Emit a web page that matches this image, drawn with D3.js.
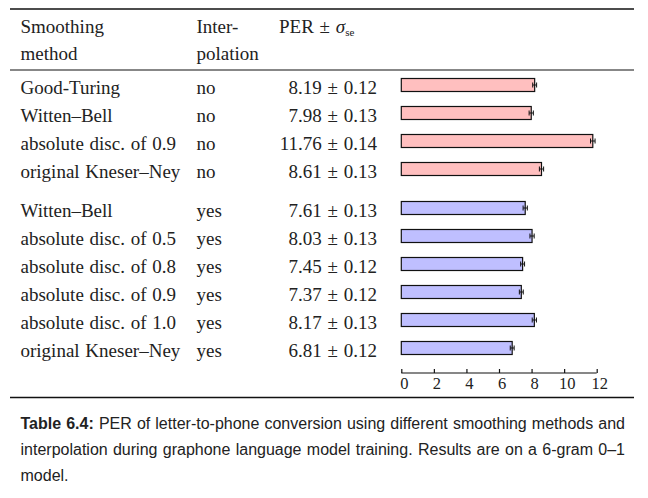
<!DOCTYPE html>
<html>
<head>
<meta charset="utf-8">
<script src="https://cdn.jsdelivr.net/npm/d3@7"></script>
<style>
  body { margin: 0; background: #fff; }
  .serif { font-family: "Liberation Serif", "DejaVu Serif", serif; fill: #222; word-spacing: 1px; }
  .cap { font-family: "Liberation Sans", Arial, sans-serif; fill: #222; }
</style>
</head>
<body>
<svg id="chart" width="648" height="498"></svg>
<script>
// table data
const methods = ["Good-Turing", "Witten\u2013Bell", "absolute disc. of 0.9", "original Kneser\u2013Ney",
  "Witten\u2013Bell", "absolute disc. of 0.5", "absolute disc. of 0.8", "absolute disc. of 0.9",
  "absolute disc. of 1.0", "original Kneser\u2013Ney"];
const interp = ["no", "no", "no", "no", "yes", "yes", "yes", "yes", "yes", "yes"];
const per = [8.19, 7.98, 11.76, 8.61, 7.61, 8.03, 7.45, 7.37, 8.17, 6.81];
const se = [0.12, 0.13, 0.14, 0.13, 0.13, 0.13, 0.12, 0.12, 0.13, 0.12];
const ticks = [0, 2, 4, 6, 8, 10, 12];

const caption = [
  "PER of letter-to-phone conversion using different smoothing methods and",
  "interpolation during graphone language model training.  Results are on a 6-gram 0\u20131",
  "model."
];

const svg = d3.select("#chart");
const fs = 19;

const x = d3.scaleLinear().domain([0, 12]).range([401.3, 596.7]);
// row baselines, second group pushed down a bit
const yRow = d3.scaleLinear().domain([0, 9]).range([94, 346]);
const rowY = i => yRow(i) + (i >= 4 ? 11 : 0);

// rules
const rule = (y, w) => svg.append("line").attr("x1", 10).attr("x2", 634)
  .attr("y1", y).attr("y2", y).attr("stroke", "#111").attr("stroke-width", w);
rule(9, 1.4);
rule(70, 1.1);
rule(397.5, 1.4);

// header
svg.append("text").attr("class", "serif").attr("x", 20.5).attr("y", 33).attr("font-size", fs).text("Smoothing");
svg.append("text").attr("class", "serif").attr("x", 20.5).attr("y", 60).attr("font-size", fs).text("method");
svg.append("text").attr("class", "serif").attr("x", 196.5).attr("y", 33).attr("font-size", fs).text("Inter-");
svg.append("text").attr("class", "serif").attr("x", 196.5).attr("y", 60).attr("font-size", fs).text("polation");
const h = svg.append("text").attr("class", "serif").attr("x", 279).attr("y", 33).attr("font-size", fs);
h.append("tspan").text("PER \u00b1 ");
h.append("tspan").attr("font-style", "italic").text("\u03c3");
h.append("tspan").attr("font-size", 11).attr("dy", 3).text("se");

// rows
const rows = svg.selectAll("g.row").data(per).join("g").attr("class", "row");
rows.append("text").attr("class", "serif").attr("font-size", fs)
  .attr("x", 20.5).attr("y", (d, i) => rowY(i)).text((d, i) => methods[i]);
rows.append("text").attr("class", "serif").attr("font-size", fs)
  .attr("x", 196.5).attr("y", (d, i) => rowY(i)).text((d, i) => interp[i]);
rows.append("text").attr("class", "serif").attr("font-size", fs).attr("text-anchor", "end")
  .attr("x", 377).attr("y", (d, i) => rowY(i))
  .text((d, i) => d.toFixed(2) + " \u00b1 " + se[i].toFixed(2));

// bars
rows.append("rect")
  .attr("x", x(0)).attr("y", (d, i) => rowY(i) - 15.5)
  .attr("width", d => x(d) - x(0)).attr("height", 13)
  .attr("fill", (d, i) => interp[i] == "no" ? "#ffbfbf" : "#bfbfff")
  .attr("stroke", "#111").attr("stroke-width", 1.2);

// error bars
rows.append("line")
  .attr("x1", (d, i) => x(d - se[i])).attr("x2", (d, i) => x(d + se[i]))
  .attr("y1", (d, i) => rowY(i) - 9).attr("y2", (d, i) => rowY(i) - 9)
  .attr("stroke", "#111").attr("stroke-width", 1);
[-1, 1].forEach(s => {
  rows.append("line")
    .attr("x1", (d, i) => x(d + s * se[i])).attr("x2", (d, i) => x(d + s * se[i]))
    .attr("y1", (d, i) => rowY(i) - 11.5).attr("y2", (d, i) => rowY(i) - 6.5)
    .attr("stroke", "#111").attr("stroke-width", 1);
});

// axis
const axis = svg.append("g").attr("transform", "translate(0,373)")
  .call(d3.axisTop(x).tickValues(ticks).tickSize(4).tickFormat(""));
axis.select(".domain").attr("stroke", "#111").attr("stroke-width", 1.2).attr("d", `M${x(0)},0H${x(12)}`);
axis.selectAll(".tick line").attr("stroke", "#111").attr("stroke-width", 1.2);
svg.selectAll("text.tl").data(ticks).join("text").attr("class", "serif tl")
  .attr("x", d => x(d) + 3).attr("y", 389).attr("text-anchor", "middle")
  .attr("font-size", 16.5).text(d => d);

// caption, justified lines
const capFs = 16;
const capLeft = 20.5, capRight = 625;
const capY = [429, 455, 481];
caption.forEach((line, li) => {
  let words = line.split(/\s+/).map(w => ({ w, bold: false }));
  if (li == 0) words = [{ w: "Table", bold: true }, { w: "6.4:", bold: true }].concat(words);
  const t = words.map(o => svg.append("text").attr("class", "cap").attr("font-size", capFs)
    .attr("font-weight", o.bold ? "bold" : "normal").attr("y", capY[li]).text(o.w));
  const widths = t.map(e => e.node().getComputedTextLength());
  const total = d3.sum(widths);
  let gap = li < 2 ? (capRight - capLeft - total) / (words.length - 1) : capFs * 0.3;
  let cx = capLeft;
  t.forEach((e, k) => { e.attr("x", cx); cx += widths[k] + gap; });
});
</script>
</body>
</html>
